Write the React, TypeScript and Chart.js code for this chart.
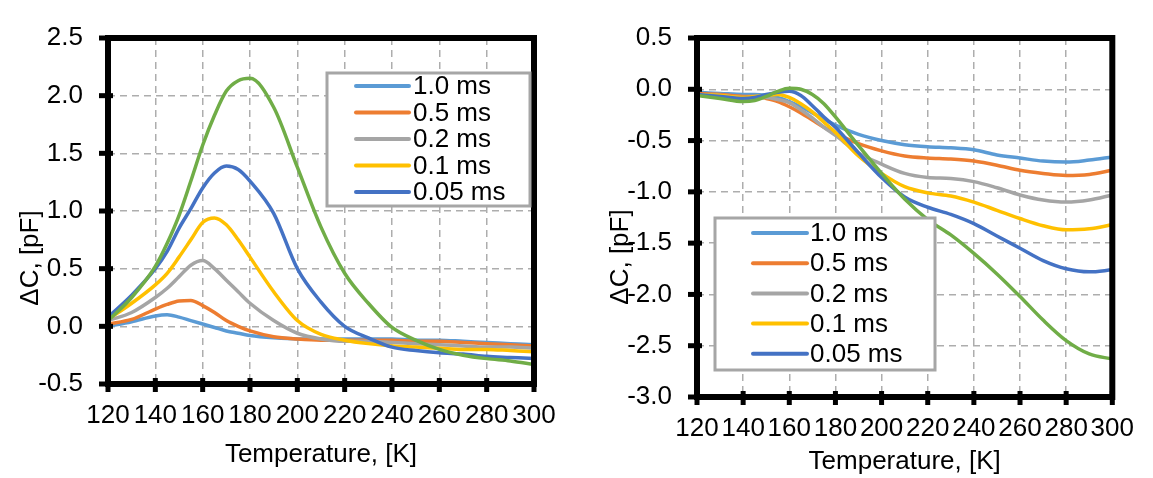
import React, { useEffect, useRef } from 'react';
import { Chart, registerables } from 'chart.js';

Chart.register(...registerables);

const FONT = '"Liberation Sans", Arial, sans-serif';

// Temperatures (K) at which the curves are sampled
const temps = [120, 130, 140, 145, 150, 155, 160, 165, 170, 175, 180, 190, 200, 210, 220, 230, 240, 250, 260, 270, 280, 290, 300];

const seriesLabels = ['1.0 ms', '0.5 ms', '0.2 ms', '0.1 ms', '0.05 ms', ''];
const seriesColors = ['#5B9BD5', '#ED7D31', '#A5A5A5', '#FFC000', '#4472C4', '#70AD47'];

// Left panel: ΔC, [pF]
const leftMs10 = [0.0, 0.04, 0.09, 0.10, 0.08, 0.05, 0.02, -0.01, -0.04, -0.06, -0.08, -0.10, -0.11, -0.11, -0.11, -0.11, -0.11, -0.12, -0.12, -0.13, -0.14, -0.15, -0.16];
const leftMs05 = [0.02, 0.06, 0.15, 0.19, 0.22, 0.225, 0.18, 0.12, 0.05, 0.0, -0.04, -0.09, -0.11, -0.12, -0.12, -0.12, -0.12, -0.13, -0.13, -0.14, -0.15, -0.16, -0.17];
const leftMs02 = [0.05, 0.12, 0.25, 0.33, 0.43, 0.53, 0.57, 0.5, 0.4, 0.3, 0.2, 0.05, -0.06, -0.11, -0.13, -0.13, -0.14, -0.15, -0.16, -0.17, -0.18, -0.18, -0.19];
const leftMs01 = [0.06, 0.2, 0.36, 0.46, 0.6, 0.75, 0.9, 0.94, 0.88, 0.75, 0.6, 0.3, 0.05, -0.07, -0.12, -0.15, -0.17, -0.18, -0.19, -0.2, -0.2, -0.21, -0.22];
const leftMs005 = [0.08, 0.27, 0.5, 0.65, 0.85, 1.02, 1.2, 1.33, 1.39, 1.36, 1.26, 0.98, 0.5, 0.21, 0.0, -0.1, -0.18, -0.21, -0.23, -0.24, -0.26, -0.27, -0.28];
const leftGreen = [0.05, 0.25, 0.52, 0.72, 0.96, 1.26, 1.57, 1.83, 2.04, 2.13, 2.15, 1.9, 1.38, 0.86, 0.46, 0.2, -0.01, -0.12, -0.2, -0.25, -0.28, -0.3, -0.33];

// Right panel: ΔC, [pF]
const rightMs10 = [-0.03, -0.04, -0.05, -0.05, -0.06, -0.08, -0.12, -0.17, -0.23, -0.29, -0.35, -0.44, -0.5, -0.54, -0.56, -0.57, -0.59, -0.64, -0.67, -0.7, -0.71, -0.69, -0.66];
const rightMs05 = [-0.04, -0.05, -0.07, -0.07, -0.09, -0.12, -0.17, -0.23, -0.3, -0.37, -0.43, -0.53, -0.6, -0.65, -0.67, -0.68, -0.7, -0.74, -0.79, -0.82, -0.84, -0.83, -0.79];
const rightMs02 = [-0.05, -0.06, -0.08, -0.08, -0.08, -0.1, -0.13, -0.2, -0.28, -0.37, -0.45, -0.62, -0.73, -0.82, -0.86, -0.87, -0.9, -0.96, -1.03, -1.08, -1.1, -1.08, -1.03];
const rightMs01 = [-0.05, -0.06, -0.08, -0.07, -0.06, -0.05, -0.08, -0.14, -0.22, -0.32, -0.42, -0.65, -0.82, -0.95, -1.01, -1.04, -1.1, -1.18, -1.26, -1.33, -1.37, -1.36, -1.32];
const rightMs005 = [-0.05, -0.07, -0.09, -0.08, -0.05, -0.03, -0.02, -0.06, -0.16, -0.27, -0.37, -0.62, -0.86, -1.05, -1.15, -1.22, -1.31, -1.43, -1.55, -1.67, -1.75, -1.78, -1.76];
const rightGreen = [-0.06, -0.09, -0.12, -0.11, -0.07, -0.02, 0.01, 0.0, -0.05, -0.14, -0.27, -0.55, -0.82, -1.07, -1.27, -1.42, -1.6, -1.8, -2.02, -2.25, -2.45, -2.58, -2.63];

const leftSeries = [leftMs10, leftMs05, leftMs02, leftMs01, leftMs005, leftGreen];
const rightSeries = [rightMs10, rightMs05, rightMs02, rightMs01, rightMs005, rightGreen];

const xTitle = 'Temperature, [K]';
const yTitle = 'ΔC, [pF]';

const decorPlugin = {
  id: 'decor',
  afterDatasetsDraw(chart: any) {
    const { ctx, chartArea: a, scales } = chart;
    ctx.save();
    ctx.strokeStyle = '#000';
    ctx.lineWidth = 6;
    ctx.setLineDash([]);
    ctx.strokeRect(a.left, a.top, a.right - a.left, a.bottom - a.top);
    ctx.lineWidth = 5;
    scales.x.ticks.forEach((t: any) => {
      const px = scales.x.getPixelForValue(t.value);
      ctx.beginPath();
      ctx.moveTo(px, a.bottom - 6);
      ctx.lineTo(px, a.bottom + 8);
      ctx.stroke();
    });
    scales.y.ticks.forEach((t: any) => {
      const py = scales.y.getPixelForValue(t.value);
      ctx.beginPath();
      ctx.moveTo(a.left - 9, py);
      ctx.lineTo(a.left + 5, py);
      ctx.stroke();
    });
    ctx.restore();
  },
  afterDraw(chart: any, _args: any, opts: any) {
    const { ctx } = chart;
    ctx.save();
    // y axis title
    ctx.fillStyle = '#000';
    ctx.font = `26px ${FONT}`;
    ctx.translate(opts.yTitleX, opts.yTitleY);
    ctx.rotate(-Math.PI / 2);
    ctx.textAlign = 'center';
    ctx.textBaseline = 'middle';
    ctx.fillText(yTitle, 0, 0);
    ctx.restore();

    // legend
    const lg = opts.legend;
    ctx.save();
    ctx.fillStyle = '#fff';
    ctx.fillRect(lg.x, lg.y, lg.w, lg.h);
    ctx.strokeStyle = '#A6A6A6';
    ctx.lineWidth = 3;
    ctx.strokeRect(lg.x, lg.y, lg.w, lg.h);
    ctx.font = `26px ${FONT}`;
    ctx.textBaseline = 'middle';
    ctx.textAlign = 'left';
    let row = 0;
    chart.data.datasets.forEach((ds: any) => {
      if (!ds.label) return;
      const y = lg.firstRow + row * lg.rowStep;
      ctx.strokeStyle = ds.borderColor;
      ctx.lineWidth = 4;
      ctx.lineCap = 'round';
      ctx.beginPath();
      ctx.moveTo(lg.lineX1, y);
      ctx.lineTo(lg.lineX2, y);
      ctx.stroke();
      ctx.fillStyle = '#000';
      ctx.fillText(ds.label, lg.textX, y + 1);
      row++;
    });
    ctx.restore();
  },
};

function buildConfig(series: number[][], p: any) {
  return {
    type: 'line' as const,
    data: {
      datasets: series.map((vals, i) => ({
        label: seriesLabels[i],
        data: temps.map((t, j) => ({ x: t, y: vals[j] })),
        borderColor: seriesColors[i],
        backgroundColor: seriesColors[i],
        borderWidth: 3.5,
        pointRadius: 0,
        cubicInterpolationMode: 'monotone' as const,
        fill: false,
        order: 6 - i,
      })),
    },
    plugins: [decorPlugin],
    options: {
      responsive: false,
      animation: false as const,
      events: [],
      layout: { padding: p.padding },
      plugins: {
        legend: { display: false },
        tooltip: { enabled: false },
        decor: { yTitleX: p.yTitleX, yTitleY: p.yTitleY, legend: p.legend },
      },
      scales: {
        x: {
          type: 'linear' as const,
          min: 120,
          max: 300,
          afterFit: (s: any) => { s.height = p.xAxisH; },
          ticks: {
            stepSize: 20,
            color: '#000',
            font: { family: FONT, size: 26, lineHeight: 1 },
            padding: 19,
            maxRotation: 0,
            autoSkip: false,
            callback: (v: any) => String(v),
          },
          grid: { color: '#ADADAD', lineWidth: 1.5, drawTicks: false },
          border: { display: false, dash: [7, 5] },
          title: {
            display: true,
            text: xTitle,
            color: '#000',
            font: { family: FONT, size: 26, lineHeight: 1 },
            padding: { top: 0, bottom: p.xTitlePad },
          },
        },
        y: {
          type: 'linear' as const,
          min: p.yMin,
          max: p.yMax,
          afterFit: (s: any) => { s.width = p.yAxisW; },
          ticks: {
            stepSize: 0.5,
            color: '#000',
            font: { family: FONT, size: 26, lineHeight: 1 },
            padding: 25,
            callback: (v: any) => Number(v).toFixed(1),
          },
          grid: { color: '#ADADAD', lineWidth: 1.5, drawTicks: false },
          border: { display: false, dash: [7, 5] },
        },
      },
    },
  };
}

function ChartPanel({ series, params, width, left }: any) {
  const ref = useRef<HTMLCanvasElement>(null);
  useEffect(() => {
    if (!ref.current) return;
    const chart = new Chart(ref.current, buildConfig(series, params) as any);
    return () => chart.destroy();
  }, []);
  return (
    <canvas
      ref={ref}
      width={width}
      height={478}
      style={{ position: 'absolute', left, top: 0, width, height: 478, display: 'block' }}
    />
  );
}

const leftParams = {
  padding: { left: 0, top: 24, right: 42, bottom: 0 },
  xAxisH: 94,
  yAxisW: 108,
  yMin: -0.5,
  yMax: 2.5,
  xTitlePad: 10,
  yTitleX: 31,
  yTitleY: 258,
  legend: { x: 327, y: 73, w: 203, h: 133, lineX1: 356, lineX2: 409, textX: 413, firstRow: 86, rowStep: 26.5 },
};

const rightParams = {
  padding: { left: 0, top: 13, right: 27, bottom: 0 },
  xAxisH: 81,
  yAxisW: 121,
  yMin: -3.0,
  yMax: 0.5,
  xTitlePad: 3,
  yTitleX: 45,
  yTitleY: 257,
  legend: { x: 139, y: 218, w: 220, h: 152, lineX1: 177, lineX2: 231, textX: 234, firstRow: 233, rowStep: 30.2 },
};

export default function App() {
  return (
    <div style={{ position: 'absolute', left: 0, top: 0, width: 1153, height: 478, background: '#fff' }}>
      <ChartPanel series={leftSeries} params={leftParams} width={576} left={0} />
      <ChartPanel series={rightSeries} params={rightParams} width={577} left={576} />
    </div>
  );
}
